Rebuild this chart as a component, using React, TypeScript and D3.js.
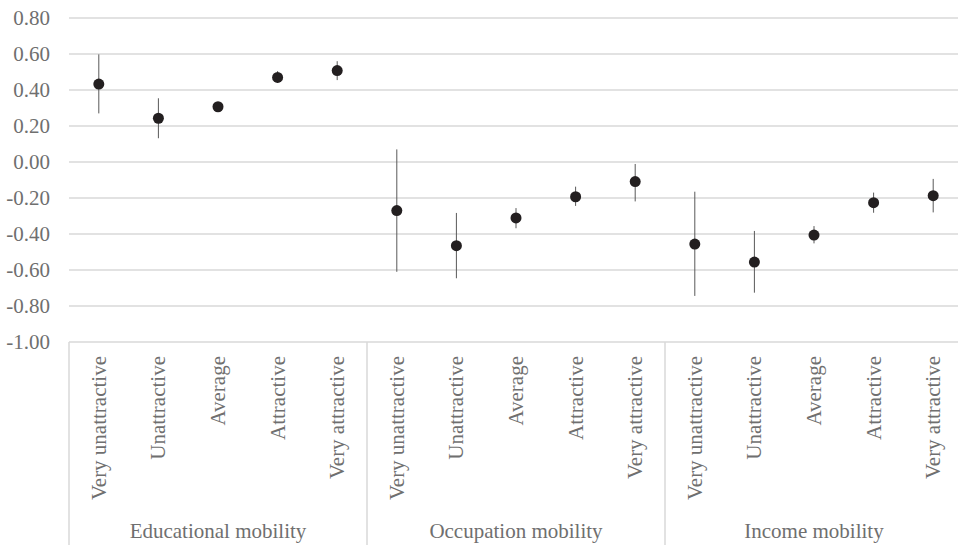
import React from "react";
import * as d3 from "d3";

const groups = ["Educational mobility", "Occupation mobility", "Income mobility"];
const levels = ["Very unattractive", "Unattractive", "Average", "Attractive", "Very attractive"];
const eduMean = [0.433, 0.243, 0.307, 0.47, 0.508];
const eduLow = [0.27, 0.132, 0.295, 0.44, 0.455];
const eduHigh = [0.598, 0.354, 0.318, 0.505, 0.56];
const occMean = [-0.27, -0.465, -0.311, -0.193, -0.109];
const occLow = [-0.61, -0.646, -0.368, -0.244, -0.219];
const occHigh = [0.07, -0.283, -0.256, -0.137, -0.011];
const incMean = [-0.456, -0.556, -0.406, -0.226, -0.187];
const incLow = [-0.744, -0.726, -0.452, -0.282, -0.28];
const incHigh = [-0.165, -0.383, -0.356, -0.17, -0.094];
const yTicks = [0.8, 0.6, 0.4, 0.2, 0, -0.2, -0.4, -0.6, -0.8, -1.0];

const W = 958;
const H = 545;
const left = 69;
const right = 963;
const top = 18;
const bottom = 342;
const font = "Liberation Serif, Times New Roman, serif";
const textColor = "#6f6f6f";

export default function App() {
  const means = [eduMean, occMean, incMean];
  const lows = [eduLow, occLow, incLow];
  const highs = [eduHigh, occHigh, incHigh];
  const keys: string[] = [];
  groups.forEach((g, gi) => levels.forEach((l, li) => keys.push(`${gi}-${li}`)));
  const x = d3.scaleBand<string>().domain(keys).range([left, right]).padding(0);
  const gx = d3.scaleBand<string>().domain(groups).range([left, right]).padding(0);
  const y = d3.scaleLinear().domain([-1, 0.8]).range([bottom, top]);
  const fmt = (v: number) => d3.format(".2f")(v).replace("\u2212", "-");
  const textStyle = { fontFamily: font, fontSize: "21px", fill: textColor } as React.CSSProperties;

  return (
    <svg width={W} height={H} style={{ position: "absolute", left: 0, top: 0, background: "#fff", fontFamily: font }}>
      {yTicks.map((t) => (
        <g key={t}>
          {t > -1 && (
            <line x1={left} x2={right} y1={y(t)} y2={y(t)} stroke="#d9d9d9" strokeWidth={1.5} />
          )}
          <text x={50} y={y(t)} dy="0.35em" textAnchor="end" style={textStyle}>
            {fmt(t)}
          </text>
        </g>
      ))}
      <line x1={left} x2={right} y1={bottom} y2={bottom} stroke="#d9d9d9" strokeWidth={1.5} />
      {groups.map((g) => (
        <g key={g}>
          <line x1={gx(g)!} x2={gx(g)!} y1={bottom} y2={H} stroke="#d9d9d9" strokeWidth={1.5} />
          <text x={gx(g)! + gx.bandwidth() / 2} y={538} textAnchor="middle" style={textStyle}>
            {g}
          </text>
        </g>
      ))}
      {groups.map((g, gi) =>
        levels.map((l, li) => {
          const cx = x(`${gi}-${li}`)! + x.bandwidth() / 2;
          return (
            <g key={`${gi}-${li}`}>
              <text
                transform={`translate(${cx + 7},${356}) rotate(-90)`}
                textAnchor="end"
                style={textStyle}
              >
                {l}
              </text>
              <line x1={cx} x2={cx} y1={y(lows[gi][li])} y2={y(highs[gi][li])} stroke="#595959" strokeWidth={1} />
              <circle cx={cx} cy={y(means[gi][li])} r={5.5} fill="#231f20" />
            </g>
          );
        })
      )}
    </svg>
  );
}
